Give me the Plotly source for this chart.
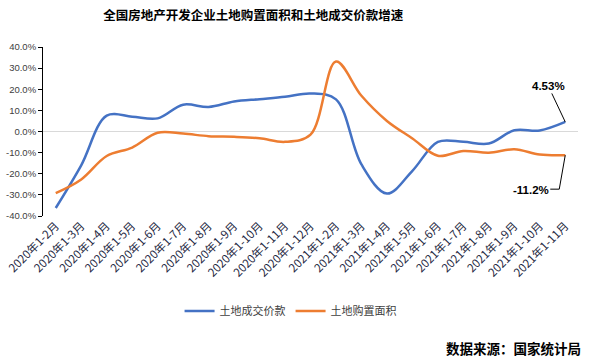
import plotly.graph_objects as go

categories = ["2020年1-2月", "2020年1-3月", "2020年1-4月", "2020年1-5月", "2020年1-6月",
              "2020年1-7月", "2020年1-8月", "2020年1-9月", "2020年1-10月", "2020年1-11月",
              "2020年1-12月", "2021年1-2月", "2021年1-3月", "2021年1-4月", "2021年1-5月",
              "2021年1-6月", "2021年1-7月", "2021年1-8月", "2021年1-9月", "2021年1-10月",
              "2021年1-11月"]
price_growth = [-36.2, -16.0, 7.5, 7.0, 6.2, 12.7, 11.6, 14.2, 15.3, 16.4, 18.0,
                15.2, -15.6, -29.4, -18.6, -4.9, -4.9, -5.7, 0.6, 0.5, 4.53]
area_growth = [-29.2, -22.7, -11.6, -7.6, -0.6, -1.0, -2.2, -2.5, -3.2, -4.9, -1.5,
               33.1, 16.9, 5.0, -3.3, -11.5, -9.2, -10.0, -8.4, -10.9, -11.2]
y_ticks = [40, 30, 20, 10, 0, -10, -20, -30, -40]

LAT = "Liberation Sans, Arial, Noto Sans CJK SC"
CJK = "Noto Sans CJK SC, Liberation Sans"

fig = go.Figure()
fig.add_trace(go.Scatter(x=categories, y=price_growth, mode="lines", name="土地成交价款",
                         line=dict(color="#4472C4", width=2.5, shape="spline", smoothing=1)))
fig.add_trace(go.Scatter(x=categories, y=area_growth, mode="lines", name="土地购置面积",
                         line=dict(color="#ED7D31", width=2.5, shape="spline", smoothing=1)))

last = categories[-1]
fig.add_annotation(x=last, y=price_growth[-1], text="<b>4.53%</b>", showarrow=True,
                   arrowhead=0, arrowwidth=1, arrowcolor="#000000", ax=-17, ay=-36,
                   font=dict(family=LAT, size=11.5, color="#000000"))
fig.add_shape(type="line", xref="x", yref="y", xsizemode="pixel", ysizemode="pixel",
              xanchor=last, yanchor=area_growth[-1], x0=0, y0=0, x1=-6, y1=-34,
              line=dict(color="#000000", width=1))
fig.add_shape(type="line", xref="x", yref="y", xsizemode="pixel", ysizemode="pixel",
              xanchor=last, yanchor=area_growth[-1], x0=-6, y0=-34, x1=-15, y1=-34,
              line=dict(color="#000000", width=1))
fig.add_annotation(x=last, y=area_growth[-1], text="<b>-11.2%</b>", showarrow=False,
                   xanchor="right", yanchor="middle", xshift=-14, yshift=-35,
                   font=dict(family=LAT, size=11.5, color="#000000"))
fig.add_annotation(xref="paper", yref="paper", x=1.01, y=-0.78, text="<b>数据来源：国家统计局</b>",
                   showarrow=False, xanchor="right", yanchor="middle",
                   font=dict(family=CJK, size=13.5, color="#000000"))

fig.update_layout(
    width=593, height=360,
    margin=dict(l=43, r=15, t=47, b=144, autoexpand=False),
    paper_bgcolor="white", plot_bgcolor="white",
    title=dict(text="<b>全国房地产开发企业土地购置面积和土地成交价款增速</b>",
               x=0.427, xanchor="center", xref="container",
               y=1 - 16 / 360, yanchor="middle", yref="container",
               font=dict(family=CJK, size=12.5, color="#000000")),
    showlegend=True,
    legend=dict(orientation="h", xref="container", yref="container",
                x=0.49, xanchor="center", y=1 - 311 / 360, yanchor="middle",
                font=dict(family=CJK, size=11, color="#404040"),
                itemwidth=30, tracegroupgap=0),
    xaxis=dict(type="category", range=[-0.5, len(categories) - 0.5], automargin=False,
               showline=False, showgrid=False, zeroline=False, ticks="",
               tickangle=-45, tickfont=dict(family=CJK, size=11.5, color="#1f2a44")),
    yaxis=dict(range=[-40, 40], tickvals=y_ticks, automargin=False,
               ticktext=[f"{v:.1f}%" for v in y_ticks],
               showline=True, linecolor="#000000", linewidth=1,
               ticks="outside", ticklen=4, tickcolor="#000000",
               showgrid=False, zeroline=True, zerolinecolor="#d9d9d9", zerolinewidth=1,
               tickfont=dict(family=LAT, size=9.5, color="#404040")),
)

fig.write_html("out.html", config={"displayModeBar": False},
               post_script="document.body.style.margin='0';document.body.style.padding='0';")
